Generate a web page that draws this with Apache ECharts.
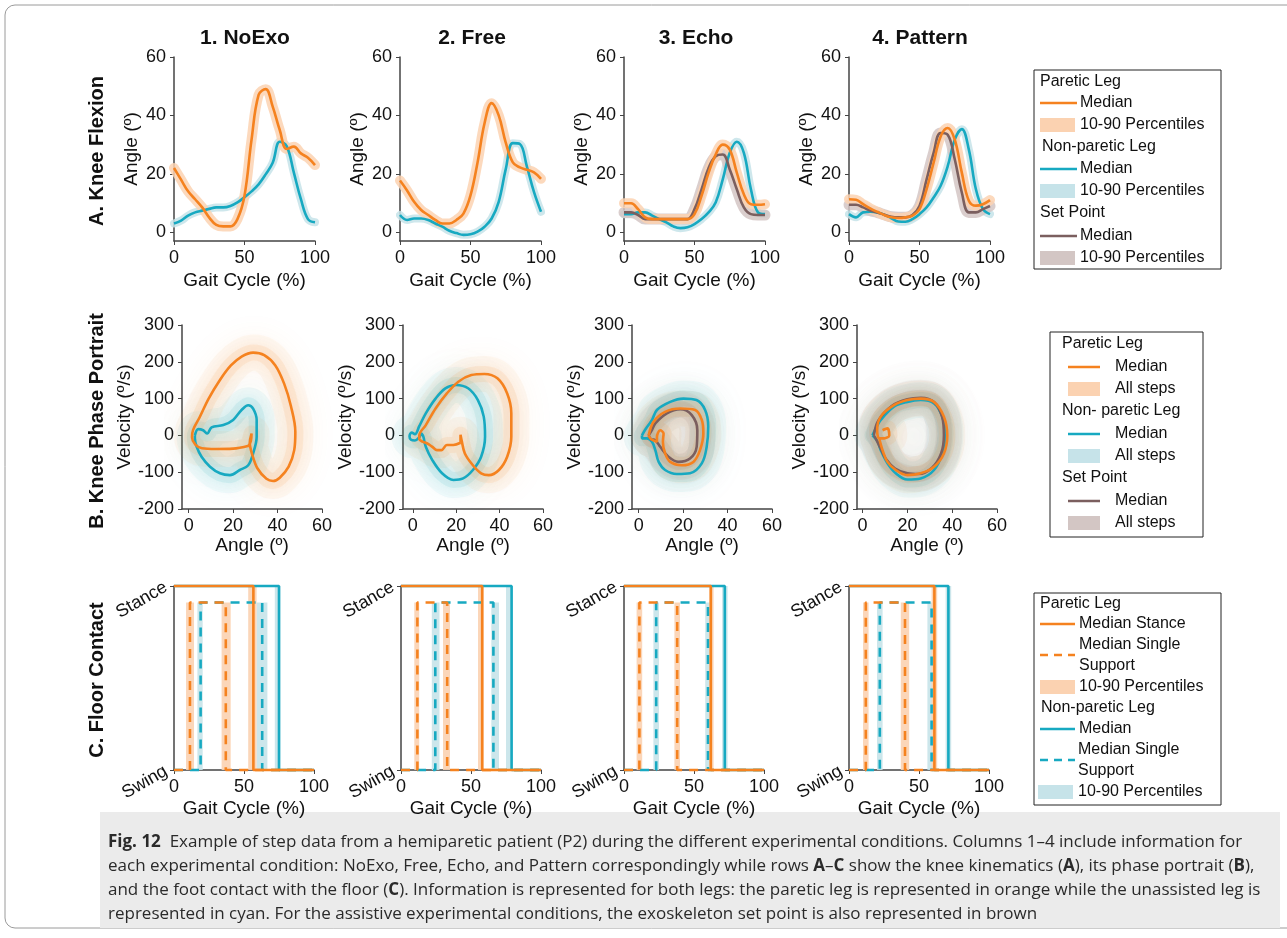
<!DOCTYPE html>
<html>
<head>
<meta charset="utf-8">
<title>Fig. 12 step data</title>
<style>
  html, body { margin: 0; padding: 0; background: #fff; }
  #main { width: 1287px; height: 938px; }
</style>
</head>
<body>
<div id="main"></div>
<script src="https://cdn.jsdelivr.net/npm/echarts@6/dist/echarts.min.js"></script>
<script>
'use strict'
// column names
var conditions = ['1. NoExo', '2. Free', '3. Echo', '4. Pattern'];

// gait cycle sample points (%)
var gaitPct = [0, 5, 10, 15, 20, 25, 30, 35, 40, 45, 50, 55, 60, 65, 70, 75, 80, 85, 90, 95, 100];

// row A: knee flexion medians (deg), one array per condition
var kneeParetic = [
  [22, 18, 14, 11.3, 8.5, 5, 2.5, 2, 2, 4.5, 12.5, 31.7, 47, 49, 43, 35, 28.5, 29.3, 27, 25.5, 23],
  [17.7, 14.3, 10.4, 7.6, 5.9, 4.2, 3, 3, 4.2, 6.4, 12.6, 23.9, 37.4, 44.2, 40, 30.7, 23.9, 22.2, 21.4, 20.5, 18.3],
  [9.9, 9.9, 7.9, 5.1, 4.5, 4.5, 4.5, 4.5, 4.5, 4.5, 6.2, 12.5, 20.4, 26.6, 30, 28.3, 20.4, 13, 9.6, 9.4, 9.6],
  [11.3, 11.1, 9.6, 8.2, 7, 5.9, 5.1, 4.9, 5.1, 5.7, 7.9, 14.7, 23.8, 32.8, 35.7, 31.7, 20.4, 10.8, 9.1, 9.6, 11]
];
var kneeNonParetic = [
  [3, 4, 5.7, 6.8, 7.4, 8, 8.5, 8.5, 9, 10.2, 12, 14, 16.4, 19.8, 23.8, 31, 29.4, 20.4, 11.3, 4.5, 3.4],
  [5.9, 4.2, 4.7, 4.7, 4.2, 3, 1.9, 0.5, -0.3, -0.9, -0.7, 0.2, 1.9, 4.7, 10.4, 21.6, 30.5, 30.2, 22.5, 13.8, 7],
  [6.2, 6.2, 6.8, 6.8, 5.7, 4.5, 3.4, 2, 1.4, 1.7, 2.8, 4.5, 6.8, 10.2, 18, 27.2, 31, 27.2, 14.7, 6.8, 6.2],
  [6.2, 5.1, 6.8, 7, 6.8, 6, 4.8, 3.7, 3.6, 4.5, 6.2, 8.5, 11.9, 15.9, 22.6, 31.7, 35.3, 28.3, 14.7, 7.9, 6.2]
];
var kneeSetPoint = [
  null,
  null,
  [6.8, 6.8, 5.9, 4.5, 4.5, 4.5, 4.5, 4.5, 4.5, 4.5, 7.9, 14.7, 22, 26, 26.6, 21.5, 14.7, 8.5, 6.2, 5.9, 5.9],
  [9.4, 9.4, 8.5, 7.4, 6.8, 6, 5.3, 5.1, 5.1, 5.9, 9, 18, 27.2, 34, 33.4, 25, 13.6, 6.8, 6.8, 7.9, 9]
];

// row B: phase portrait medians, [angle (deg), velocity (deg/s)]
var phaseParetic = [
  [[27, -28], [20, -36], [12, -37], [6, -35], [3, -25], [1.5, -5], [2, 15], [5, 50], [9, 100], [14, 150], [19, 190], [24, 215], [29, 225], [34, 218], [39, 190], [43, 140], [46, 80], [48, 10], [47.5, -40], [45, -85], [41, -115], [38, -124], [35, -118], [31, -90], [28.5, -50], [27.5, -20], [28.3, 5], [28, -15], [27, -28]],
  [[22, -20], [18.7, -26], [15.7, -26], [13.2, -40], [11.2, -40], [9, -31], [6.7, -22], [4.5, -17], [3, -10], [3, 0], [6, 28], [10.5, 73], [15.7, 114], [21, 146], [27, 164], [33, 167], [39, 155], [43.5, 114], [45.4, 60], [45.4, -4], [43.5, -58], [39.7, -94], [35, -108], [31.5, -103], [27.7, -81], [24, -49], [22.5, -13], [22, 2], [22, -20]],
  [[4.5, 0], [6.7, 37], [11.9, 64], [18.7, 73], [25.4, 69], [28.4, 42], [29.1, 5], [27.6, -40], [24.6, -72], [19.4, -81], [14.2, -72], [11.9, -49], [10.9, -17], [11.2, 5], [9.7, 14], [8.2, -5], [8.2, -17], [5.5, -10], [4.5, 0]],
  [[8.9, 14], [11.1, 19], [11.9, 0], [9.6, -8], [7.4, -8], [6.5, 15], [8.1, 51], [14, 82], [20, 96], [25.9, 100], [31.9, 91], [36.3, 51], [37.8, 0], [36.3, -49], [31.9, -85], [25.9, -103], [20, -108], [14.8, -94], [11.1, -72], [8.9, -40], [7.4, -8]]
];
var phaseNonParetic = [
  [[2.8, 0], [4.3, 17], [6.5, 14], [8.4, 5], [10.3, 22], [15.6, 28], [20, 42], [23.8, 69], [26.8, 82], [29, 73], [30.6, 42], [30.6, -4], [29, -49], [26.8, -81], [23, -94], [18.6, -108], [14.1, -103], [9.6, -85], [5.8, -58], [3.6, -31], [2.8, -8], [2.8, 0]],
  [[5, -5], [4, 5], [3, -5], [1, -14], [-0.8, -12], [-1.5, -3], [-0.5, 8], [1, 3], [3, 25], [6, 60], [10.5, 100], [15, 128], [20, 137], [25.5, 128], [30, 96], [32.7, 51], [33.3, -4], [31.5, -58], [27.7, -94], [23.2, -117], [18.7, -121], [13.5, -103], [9, -67], [6, -31], [5, -5]],
  [[1.5, 0], [3, 16], [6, 42], [8.2, 69], [14.2, 91], [20.1, 100], [26, 96], [29.9, 69], [31.3, 24], [30.6, -31], [28.4, -76], [23.1, -103], [17.2, -105], [11.9, -94], [9, -72], [7.5, -40], [6, -17], [3.7, -8], [1.5, -8], [1.5, 0]],
  [[4.4, 0], [5.9, 19], [8.1, 42], [14, 78], [20, 91], [25.9, 96], [31.9, 87], [35.6, 51], [37, 5], [35.6, -49], [31.9, -94], [25.9, -117], [20, -120], [14.8, -103], [11.1, -76], [8.1, -40], [6.7, -17], [4.4, 0]]
];
var phaseSetPoint = [
  null,
  null,
  [[4.5, 0], [6, 15], [7.5, 33], [12.7, 60], [18.7, 71], [23.9, 55], [26.4, 14], [26.1, -31], [23.1, -63], [17.9, -72], [13.4, -58], [9.7, -31], [7.5, -13], [5.5, -10], [4.5, 0]],
  [[5, 0], [7, 40], [13, 80], [20, 98], [26, 102], [32, 90], [35.5, 50], [36.3, 0], [35, -50], [31, -88], [25, -105], [20, -103], [14.5, -90], [10.5, -65], [8, -35], [6, -10], [5, 0]]
];

// row C: floor contact, values in % of gait cycle
var stanceEndParetic = [56.7, 58, 62, 61];
var stanceEndNonParetic = [75, 79, 72, 71];
var singleSupportParetic = [[11.4, 37], [11.7, 33], [11, 38], [12, 40]];
var singleSupportNonParetic = [[19, 63], [24.5, 66], [23, 60], [22, 59]];
// percentile bands: [from, to, top level]
var contactBandsParetic = [
  [[8.6, 14.3, 0.91], [34, 40.5, 0.91], [53, 59, 1]],
  [[9.5, 13, 0.91], [30, 35, 0.91], [55, 59, 1]],
  [[9, 13, 0.91], [36, 40, 0.91], [61, 64, 1]],
  [[10, 14, 0.91], [37, 43, 0.91], [59, 63, 1]]
];
var contactBandsNonParetic = [
  [[16.7, 20.5, 0.91], [59, 66.7, 0.91], [72, 76, 1]],
  [[22, 27.5, 0.91], [64.5, 70, 0.91], [75, 79, 1]],
  [[21, 25, 0.91], [58, 62, 0.91], [70, 74, 1]],
  [[20, 24, 0.91], [56, 61, 0.91], [69, 73, 1]]
];
var singleLevel = 0.91;

var orange = '#f5821f';
var cyan = '#17a9c1';
var brown = '#7b5f5f';
var orangeBand = '#fbd2b1';
var cyanBand = '#c6e3e9';
var brownBand = '#d3c6c4';
var font = 'Liberation Sans';

var gridLeftA = [174, 400, 624, 849];
var gridLeftB = [182, 403, 632, 857];
var phaseMinX = [-3, -4.5, -3, -2.5];
var gridLeftC = [174, 401, 624, 849];

var grids = [], xAxes = [], yAxes = [], series = [];

function axisBase() {
  return {
    axisLine: { show: true, onZero: false, lineStyle: { color: '#444', width: 1.5 } },
    axisTick: { show: true, length: 4, lineStyle: { color: '#444' } },
    axisLabel: { color: '#111', fontSize: 18, fontFamily: font },
    splitLine: { show: false },
    nameTextStyle: { color: '#111', fontSize: 19, fontFamily: font }
  };
}

function addGrid(left, top, width, height) {
  grids.push({ left: left, top: top, width: width, height: height, outerBoundsMode: 'none', containLabel: false });
  return grids.length - 1;
}

function pairs(ys) {
  return gaitPct.map(function (x, i) { return [x, ys[i]]; });
}

function band(idx, data, color, width, smooth) {
  series.push({
    type: 'line', xAxisIndex: idx, yAxisIndex: idx, data: data, showSymbol: false,
    smooth: smooth, silent: true, z: 1, clip: false,
    lineStyle: { color: color, width: width, opacity: 0.85, cap: 'round', join: 'round' }
  });
}

function median(idx, data, color, smooth, z) {
  series.push({
    type: 'line', xAxisIndex: idx, yAxisIndex: idx, data: data, showSymbol: false,
    smooth: smooth, silent: true, z: z, clip: false,
    lineStyle: { color: color, width: 2.6 }
  });
}

for (var c = 0; c < 4; c++) {
  // ---- row A: knee flexion
  var ia = addGrid(gridLeftA[c], 57, 141, 184);
  var xa = axisBase();
  Object.assign(xa, { gridIndex: ia, type: 'value', min: 0, max: 100, interval: 50,
    name: 'Gait Cycle (%)', nameLocation: 'middle', nameGap: 30 });
  xAxes.push(xa);
  var ya = axisBase();
  Object.assign(ya, { gridIndex: ia, type: 'value', min: -3, max: 60,
    name: 'Angle (º)', nameLocation: 'middle', nameGap: 33 });
  ya.axisLabel.customValues = [0, 20, 40, 60];
  ya.axisTick.customValues = [0, 20, 40, 60];
  yAxes.push(ya);

  band(ia, pairs(kneeNonParetic[c]), cyanBand, 8, 0.4);
  if (kneeSetPoint[c]) band(ia, pairs(kneeSetPoint[c]), brownBand, 11, 0.4);
  band(ia, pairs(kneeParetic[c]), orangeBand, 10, 0.4);
  median(ia, pairs(kneeNonParetic[c]), cyan, 0.4, 3);
  if (kneeSetPoint[c]) median(ia, pairs(kneeSetPoint[c]), brown, 0.4, 4);
  median(ia, pairs(kneeParetic[c]), orange, 0.4, 5);

  // ---- row B: phase portrait
  var ib = addGrid(gridLeftB[c], 325, 140, 184);
  var xb = axisBase();
  Object.assign(xb, { gridIndex: ib, type: 'value', min: phaseMinX[c], max: 60,
    name: 'Angle (º)', nameLocation: 'middle', nameGap: 26 });
  xb.axisLabel.customValues = [0, 20, 40, 60];
  xb.axisTick.customValues = [0, 20, 40, 60];
  xAxes.push(xb);
  var yb = axisBase();
  Object.assign(yb, { gridIndex: ib, type: 'value', min: -200, max: 300, interval: 100,
    name: 'Velocity (º/s)', nameLocation: 'middle', nameGap: 44 });
  yAxes.push(yb);

  // soft "all steps" haze: two wide, faint, blurred strokes under each median
  var halos = [[phaseNonParetic[c], cyan], [phaseSetPoint[c], brown], [phaseParetic[c], orange]];
  halos.forEach(function (h) {
    if (!h[0]) return;
    [[36, 0.05, 30], [16, 0.09, 14]].forEach(function (w) {
      series.push({
        type: 'line', xAxisIndex: ib, yAxisIndex: ib, data: h[0], showSymbol: false,
        smooth: 0.35, silent: true, z: 1, clip: false,
        lineStyle: { color: h[1], width: w[0], opacity: w[1], shadowBlur: w[2], shadowColor: h[1], join: 'round', cap: 'round' }
      });
    });
  });
  median(ib, phaseNonParetic[c], cyan, 0.35, 3);
  if (phaseSetPoint[c]) median(ib, phaseSetPoint[c], brown, 0.35, 4);
  median(ib, phaseParetic[c], orange, 0.35, 5);

  // ---- row C: floor contact
  var ic = addGrid(gridLeftC[c], 586, 140, 184);
  var xc = axisBase();
  Object.assign(xc, { gridIndex: ic, type: 'value', min: 0, max: 100, interval: 50,
    name: 'Gait Cycle (%)', nameLocation: 'middle', nameGap: 29 });
  xAxes.push(xc);
  var yc = axisBase();
  Object.assign(yc, { gridIndex: ic, type: 'value', min: 0, max: 1 });
  yc.axisLabel.customValues = [0, 1];
  yc.axisLabel.rotate = 30;
  yc.axisLabel.formatter = function (v) { return v === 1 ? 'Stance' : 'Swing'; };
  yc.axisTick.customValues = [0, 1];
  yAxes.push(yc);

  [[contactBandsNonParetic[c], cyanBand], [contactBandsParetic[c], orangeBand]].forEach(function (b) {
    series.push({
      type: 'line', xAxisIndex: ic, yAxisIndex: ic, data: [], silent: true, z: 1,
      markArea: {
        silent: true, itemStyle: { color: b[1], opacity: 0.9 },
        data: b[0].map(function (r) { return [{ xAxis: r[0], yAxis: 0 }, { xAxis: r[1], yAxis: r[2] }]; })
      }
    });
  });

  var sp = singleSupportParetic[c], snp = singleSupportNonParetic[c];
  var steps = [
    [[[0, 0], [snp[0], 0], [snp[0], singleLevel], [snp[1], singleLevel], [snp[1], 0], [100, 0]], cyan, 'dashed'],
    [[[0, 1], [stanceEndNonParetic[c], 1], [stanceEndNonParetic[c], 0], [100, 0]], cyan, 'solid'],
    [[[0, 0], [sp[0], 0], [sp[0], singleLevel], [sp[1], singleLevel], [sp[1], 0], [100, 0]], orange, 'dashed'],
    [[[0, 1], [stanceEndParetic[c], 1], [stanceEndParetic[c], 0], [100, 0]], orange, 'solid']
  ];
  steps.forEach(function (s, k) {
    series.push({
      type: 'line', xAxisIndex: ic, yAxisIndex: ic, data: s[0], showSymbol: false,
      silent: true, z: 3 + k, clip: false,
      lineStyle: { color: s[1], width: 2.6, type: s[2] === 'dashed' ? [9, 7] : 'solid' }
    });
  });
}

// ---- decorations: titles, row labels, legends, caption
var graphic = [];
graphic.push({ type: 'rect', silent: true, shape: { x: 5, y: 5, width: 1310, height: 923, r: 10 },
  style: { fill: 'none', stroke: '#9a9a9a', lineWidth: 1 } });

var titleX = [245, 472, 696, 920];
conditions.forEach(function (t, i) {
  graphic.push({ type: 'text', x: titleX[i], y: 38, style: { text: t, fill: '#111',
    font: 'bold 21px ' + font, textAlign: 'center', textVerticalAlign: 'middle' } });
});
[['A. Knee Flexion', 151], ['B. Knee Phase Portrait', 421], ['C. Floor Contact', 680]].forEach(function (r) {
  graphic.push({ type: 'text', x: 97, y: r[1], rotation: Math.PI / 2, style: { text: r[0], fill: '#111',
    font: 'bold 20px ' + font, textAlign: 'center', textVerticalAlign: 'middle' } });
});

function lText(x, y, t) {
  graphic.push({ type: 'text', x: x, y: y, style: { text: t, fill: '#111', font: '16px ' + font, textVerticalAlign: 'middle' } });
}
function lLine(x1, x2, y, color, dashed) {
  graphic.push({ type: 'line', shape: { x1: x1, y1: y, x2: x2, y2: y },
    style: { stroke: color, lineWidth: 2.5, lineDash: dashed ? [8, 6] : null } });
}
function lBand(x1, x2, y, color) {
  graphic.push({ type: 'rect', shape: { x: x1, y: y - 7, width: x2 - x1, height: 14 }, style: { fill: color } });
}
function lBox(x, y, w, h) {
  graphic.push({ type: 'rect', shape: { x: x, y: y, width: w, height: h }, style: { fill: '#fff', stroke: '#222', lineWidth: 1 } });
}

// legend row A
lBox(1034, 70, 187, 199);
lText(1040, 82, 'Paretic Leg');
lLine(1040, 1077, 103, orange); lText(1080, 103, 'Median');
lBand(1040, 1075, 125, orangeBand); lText(1080, 125, '10-90 Percentiles');
lText(1042, 147, 'Non-paretic Leg');
lLine(1040, 1077, 169, cyan); lText(1080, 169, 'Median');
lBand(1040, 1075, 191, cyanBand); lText(1080, 191, '10-90 Percentiles');
lText(1040, 213, 'Set Point');
lLine(1040, 1077, 236, brown); lText(1080, 236, 'Median');
lBand(1040, 1075, 258, brownBand); lText(1080, 258, '10-90 Percentiles');

// legend row B
lBox(1050, 332, 153, 205);
lText(1062, 344, 'Paretic Leg');
lLine(1068, 1100, 367, orange); lText(1115, 367, 'Median');
lBand(1068, 1100, 389, orangeBand); lText(1115, 389, 'All steps');
lText(1062, 411, 'Non- paretic Leg');
lLine(1068, 1100, 434, cyan); lText(1115, 434, 'Median');
lBand(1068, 1100, 456, cyanBand); lText(1115, 456, 'All steps');
lText(1062, 478, 'Set Point');
lLine(1068, 1100, 501, brown); lText(1115, 501, 'Median');
lBand(1068, 1100, 523, brownBand); lText(1115, 523, 'All steps');

// legend row C
lBox(1034, 593, 187, 212);
lText(1040, 604, 'Paretic Leg');
lLine(1040, 1075, 624, orange); lText(1079, 624, 'Median Stance');
lLine(1040, 1075, 655, orange, true); lText(1079, 645, 'Median Single'); lText(1079, 666, 'Support');
lBand(1040, 1075, 687, orangeBand); lText(1079, 687, '10-90 Percentiles');
lText(1041, 708, 'Non-paretic Leg');
lLine(1040, 1075, 729, cyan); lText(1079, 729, 'Median');
lLine(1040, 1075, 760, cyan, true); lText(1078, 750, 'Median Single'); lText(1078, 771, 'Support');
lBand(1038, 1073, 792, cyanBand); lText(1078, 792, '10-90 Percentiles');

// caption
graphic.push({ type: 'rect', silent: true, shape: { x: 100, y: 812, width: 1180, height: 116 }, style: { fill: '#ebebeb' } });
var captionLines = [
  '{b|Fig. 12}  Example of step data from a hemiparetic patient (P2) during the different experimental conditions. Columns 1–4 include information for',
  'each experimental condition: NoExo, Free, Echo, and Pattern correspondingly while rows {b|A}–{b|C} show the knee kinematics ({b|A}), its phase portrait ({b|B}),',
  'and the foot contact with the floor ({b|C}). Information is represented for both legs: the paretic leg is represented in orange while the unassisted leg is',
  'represented in cyan. For the assistive experimental conditions, the exoskeleton set point is also represented in brown'
];
captionLines.forEach(function (t, i) {
  graphic.push({ type: 'text', x: 108, y: 842 + i * 24, style: {
    text: t, fill: '#2a2a2a', font: '17px "Open Sans"', textVerticalAlign: 'middle',
    rich: { b: { fontWeight: 'bold', fontSize: 17, fontFamily: 'Open Sans', fill: '#2a2a2a' } }
  } });
});

var chart = echarts.init(document.getElementById('main'));
chart.setOption({
  animation: false,
  backgroundColor: '#fff',
  grid: grids,
  xAxis: xAxes,
  yAxis: yAxes,
  series: series,
  graphic: graphic
});
</script>
</body>
</html>
